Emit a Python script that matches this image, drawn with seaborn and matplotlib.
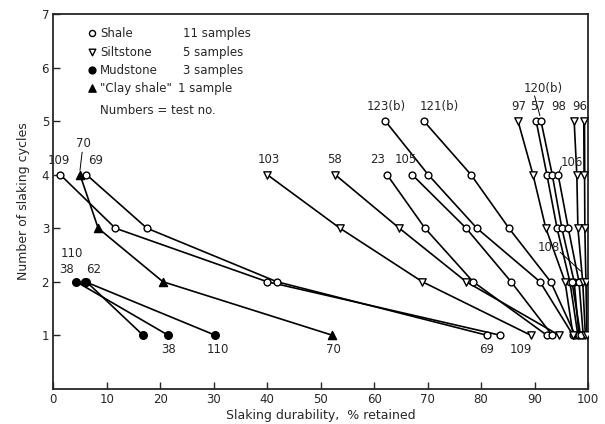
import pandas as pd
import matplotlib.pyplot as plt
import seaborn as sns

# Slaking durability (% retained) after each slaking cycle, one list per test
shale_tests = ['109', '69', '23', '105', '123(b)', '121(b)', '57', '120(b)', '106', '108']
shale_cycles = [[4, 3, 2, 1], [4, 3, 2, 1], [4, 3, 2, 1], [4, 3, 2, 1],
                [5, 4, 3, 2, 1], [5, 4, 3, 2, 1], [5, 4, 3, 2, 1], [5, 4, 3, 2, 1],
                [4, 3, 2, 1], [2, 1]]
shale_durability = [[1.3, 11.6, 40.0, 83.6], [6.2, 17.5, 41.8, 81.1],
                    [62.4, 69.5, 78.5, 92.3], [67.1, 77.2, 85.6, 93.3],
                    [62.1, 70.1, 79.2, 91.0, 97.2], [69.3, 78.1, 85.2, 93.0, 97.6],
                    [90.3, 92.3, 94.2, 96.6, 98.1], [91.2, 93.3, 95.1, 97.4, 98.3],
                    [94.4, 96.3, 98.3, 99.1], [97.0, 98.6]]

silt_tests = ['103', '58', '97', '98', '96']
silt_cycles = [[4, 3, 2, 1], [4, 3, 2, 1], [5, 4, 3, 2, 1], [5, 4, 3, 2, 1], [5, 4, 3, 2, 1]]
silt_durability = [[40.0, 53.6, 69.0, 89.3], [52.7, 64.7, 77.2, 94.6],
                   [86.9, 89.7, 92.1, 95.7, 97.2], [97.4, 97.9, 98.1, 99.0, 99.5],
                   [99.3, 99.3, 99.4, 99.6, 99.8]]

mud_tests = ['38', '62', '110']
mud_cycles = [[2, 1], [2, 1], [2, 1]]
mud_durability = [[4.3, 21.5], [6.2, 16.8], [6.0, 30.3]]

clay_tests = ['70']
clay_cycles = [[4, 3, 2, 1]]
clay_durability = [[5.0, 8.4, 20.5, 52.2]]

rock_types = ['Shale', 'Siltstone', 'Mudstone', 'Clay shale']
sample_counts = ['11 samples', '5 samples', '3 samples', '1 sample']


def build_frame():
    rows = []
    groups = [(rock_types[0], shale_tests, shale_cycles, shale_durability),
              (rock_types[1], silt_tests, silt_cycles, silt_durability),
              (rock_types[2], mud_tests, mud_cycles, mud_durability),
              (rock_types[3], clay_tests, clay_cycles, clay_durability)]
    for rock, tests, cycles, durab in groups:
        for t, cyc, dur in zip(tests, cycles, durab):
            for c, d in zip(cyc, dur):
                rows.append({'rock': rock, 'test': rock + t, 'cycles': c, 'durability': d})
    return pd.DataFrame(rows)


df = build_frame()

sns.set_style('ticks')
plt.rcParams['font.family'] = ['DejaVu Sans']

fig = plt.figure(figsize=(6.05, 4.24), dpi=100)
ax = fig.add_axes([0.088, 0.083, 0.884, 0.884])

# lines, one per test
sns.lineplot(data=df, x='durability', y='cycles', units='test', estimator=None,
             color='black', linewidth=1.2, sort=True, ax=ax, legend=False)

# markers per rock type
marker_style = {'Shale': ('o', 'white', 24), 'Siltstone': ('v', 'white', 28),
                'Mudstone': ('o', 'black', 30), 'Clay shale': ('^', 'black', 34)}
for rock in rock_types:
    m, fc, s = marker_style[rock]
    sns.scatterplot(data=df[df['rock'] == rock], x='durability', y='cycles', marker=m,
                    color=fc, edgecolor='black', linewidth=1.0, s=s, zorder=5,
                    ax=ax, legend=False)

ax.set_xlim(0, 100)
ax.set_ylim(0, 7)
ax.set_xticks(range(0, 101, 10))
ax.set_yticks(range(1, 8))
ax.tick_params(direction='in', length=5, width=1, labelsize=8.5, pad=3)
for sp in ax.spines.values():
    sp.set_linewidth(1.3)
ax.set_xlabel('Slaking durability,  % retained', fontsize=9, labelpad=2)
ax.set_ylabel('Number of slaking cycles', fontsize=9, labelpad=8)

# legend drawn as text block
leg_y = [6.64, 6.29, 5.95, 5.61]
for rock, cnt, yy in zip(rock_types, sample_counts, leg_y):
    m, fc, s = marker_style[rock]
    ax.scatter([7.3], [yy], marker=m, s=s * 0.8, facecolor=fc, edgecolor='black', linewidth=1.0)
    name = '"Clay shale"' if rock == 'Clay shale' else rock
    ax.text(8.8, yy, name, fontsize=8.5, va='center')
    ax.text(24.2 if rock != 'Clay shale' else 23.3, yy, cnt, fontsize=8.5, va='center')
ax.text(8.8, 5.2, 'Numbers = test no.', fontsize=8.5, va='center')

# test number labels
lab = dict(fontsize=8.5, ha='center', va='center')
top_labels = [('109', 1.0, 4.26), ('69', 8.0, 4.26), ('103', 40.3, 4.28), ('58', 52.6, 4.28),
              ('23', 60.6, 4.28), ('105', 66.0, 4.28), ('123(b)', 62.3, 5.27),
              ('121(b)', 72.2, 5.27), ('97', 87.0, 5.28), ('57', 90.6, 5.28),
              ('98', 94.6, 5.28), ('96', 98.4, 5.28), ('120(b)', 91.6, 5.6),
              ('106', 97.0, 4.22), ('108', 92.6, 2.63), ('70', 5.6, 4.58),
              ('110', 3.5, 2.52), ('38', 2.4, 2.22), ('62', 7.6, 2.22),
              ('38', 21.6, 0.73), ('110', 30.8, 0.73), ('70', 52.4, 0.73),
              ('69', 81.0, 0.73), ('109', 87.4, 0.73)]
for t, xx, yy in top_labels:
    ax.text(xx, yy, t, **lab)

# leader lines for crowded labels
ax.plot([5.4, 5.0], [4.42, 4.08], color='black', linewidth=0.7)
ax.plot([90.0, 91.0], [5.47, 5.1], color='black', linewidth=0.7)
ax.plot([95.0, 94.6], [4.15, 4.05], color='black', linewidth=0.7)
ax.plot([94.8, 98.6], [2.55, 2.2], color='black', linewidth=0.7)

plt.savefig('out.png', dpi=100)
